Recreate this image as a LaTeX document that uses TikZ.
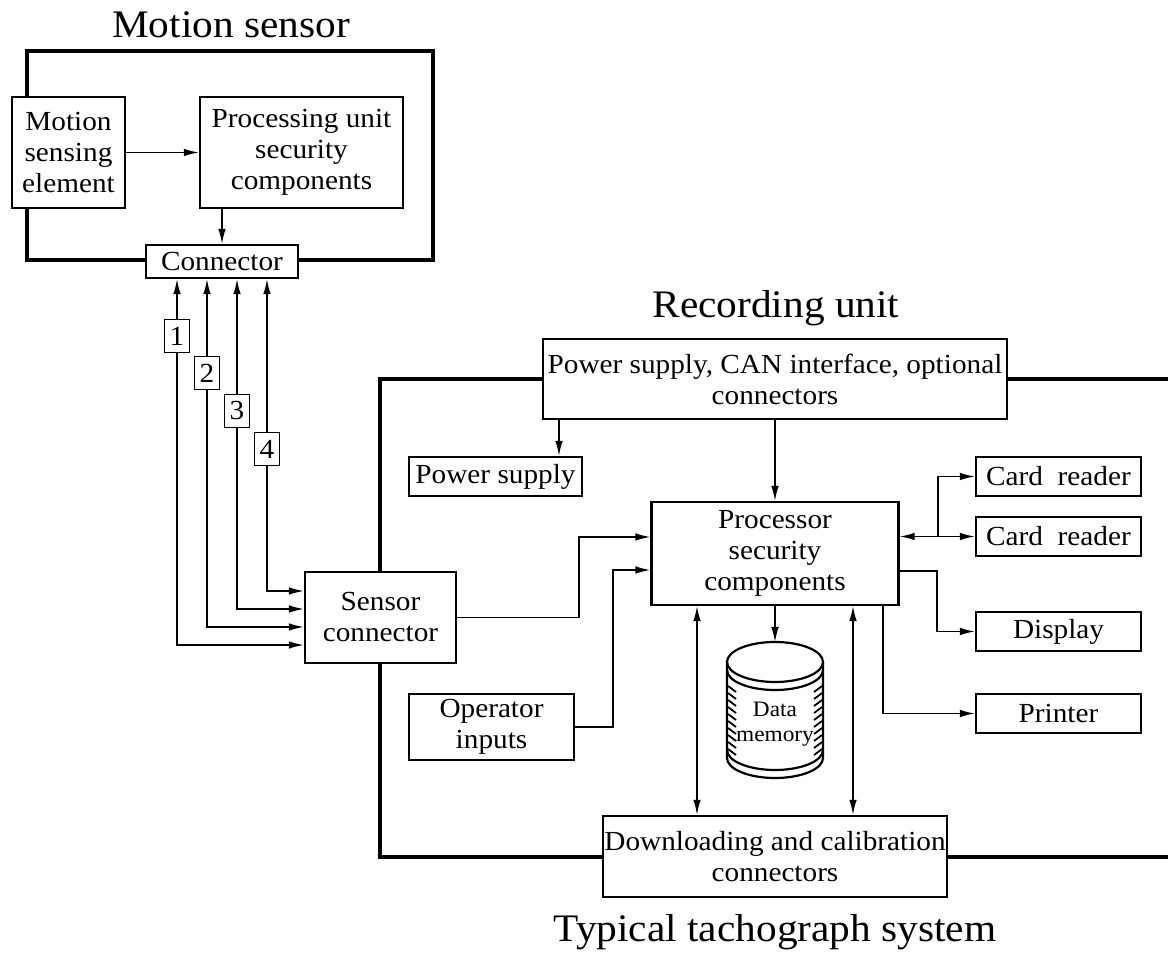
\documentclass[tikz,border=0pt]{standalone}
\usepackage{fontspec}
\setmainfont{Liberation Serif}[FakeStretch=1.06]
\usepackage{tikz}
\usetikzlibrary{positioning,arrows,arrows.meta}

\begin{document}
\begin{tikzpicture}[x=0.5pt,y=-0.5pt,>={Latex[length=7.5pt,width=3.8pt]},line width=0.7pt,font=\fontsize{13.8}{15.5}\selectfont]
            \tikzstyle{box}=[draw,line width=1.2pt,fill=white,align=center,inner sep=0pt]
            \tikzstyle{frame}=[line width=2pt]
            \tikzstyle{title}=[anchor=base,font=\fontsize{19.5}{22}\selectfont]
            \tikzstyle{numbox}=[draw,line width=0.6pt,fill=white,inner sep=0pt,minimum width=12.5pt,minimum height=16.5pt]
            \useasboundingbox (0,0) rectangle (1168,961);

            \node[title] (mstitle) at (231,38) {Motion sensor};
            \node[title] (rutitle) at (776,318) {Recording unit};
            \node[title] (systitle) at (775,942) {Typical tachograph system};

            \draw[frame] (27,51) rectangle (433,260);
            \draw[frame] (1172,379) -- (380,379) -- (380,857) -- (1172,857);

            \node[box,minimum width=56.5pt,minimum height=55.5pt] (mse) at (68.5,152.5) {Motion\\sensing\\element};
            \node[box,minimum width=101.5pt,minimum height=55.5pt] (pu) at (301.5,152.5) {Processing unit\\security\\components};
            \node[box,minimum width=76pt,minimum height=16.5pt] (conn) at (222,261.5) {Connector};
            \node[box,minimum width=75.5pt,minimum height=45.5pt] (sc) at (380.5,617.5) {Sensor\\connector};
            \node[box,minimum width=232pt,minimum height=40pt] (psc) at (775,379) {Power supply, CAN interface, optional\\connectors};
            \node[box,minimum width=86.5pt,minimum height=19.5pt] (ps) at (495.5,476.5) {Power supply};
            \node[box,minimum width=123.5pt,minimum height=51.5pt] (proc) at (775,553.5) {Processor\\security\\components};
            \node[box,minimum width=82.5pt,minimum height=33pt] (op) at (491.5,727) {Operator\\inputs};
            \node[box,minimum width=82.5pt,minimum height=19.5pt] (cr1) at (1058.5,476.5) {Card~ reader};
            \node[box,minimum width=82.5pt,minimum height=19.5pt] (cr2) at (1058.5,536.5) {Card~ reader};
            \node[box,minimum width=82.5pt,minimum height=19.5pt] (disp) at (1058.5,631.5) {Display};
            \node[box,minimum width=82.5pt,minimum height=19.5pt] (prn) at (1058.5,713.5) {Printer};
            \node[box,minimum width=172pt,minimum height=40.5pt] (dl) at (775,856.5) {Downloading and calibration\\connectors};

            \draw[line width=1.1pt] (775,662) ellipse [x radius=24pt,y radius=10pt];
            \draw[line width=1.1pt] (727,670) arc[start angle=180,end angle=360,x radius=24pt,y radius=10pt];
            \draw[line width=1.1pt] (727,662) -- (727,758) arc[start angle=180,end angle=360,x radius=24pt,y radius=10pt] -- (823,662);
            \draw[line width=1.1pt] (727,750) arc[start angle=180,end angle=360,x radius=24pt,y radius=10pt];
            \foreach \t in {686,693,...,750}{
                \draw[line width=0.9pt] (728,\t) -- (736,\t+6);
                \draw[line width=0.9pt] (822,\t) -- (814,\t+6);
            }
            \coordinate (memtop) at (775,642);
            \node[font=\fontsize{11}{12.5}\selectfont,align=center] (mem) at (775,724) {Data\\memory};

            \draw[->] (mse) -- (pu);
            \draw[->] (222,0 |- pu.south) -- (conn);
            \foreach \i/\x/\y/\ly in {1/177/645/336,2/207/627/373,3/237/609/411,4/267/591/449}{
                \draw[<->] (\x,0 |- conn.south) -- (\x,\y) -- (sc.west |- \x,\y);
                \node[numbox] (n\i) at (\x,\ly) {\i};
            }

            \draw[->] (559,0 |- psc.south) -- (559,0 |- ps.north);
            \draw[->] (psc) -- (proc);
            \draw[->] (sc.east) -| (579,537) -- (proc.west |- 579,537);
            \draw[->] (op.east) -| (613,570) -- (proc.west |- 613,570);
            \draw[<->] (proc.east |- cr2) -- (cr2);
            \coordinate (br) at (938,536.5);
            \draw[->] (br) |- (cr1);
            \draw[->] (proc.east |- 0,571) -- (937,571) |- (disp);
            \draw[->] (883,0 |- proc.south) |- (prn);
            \draw[->] (proc) -- (memtop);
            \draw[<->] (697,0 |- proc.south) -- (697,0 |- dl.north);
            \draw[<->] (853,0 |- proc.south) -- (853,0 |- dl.north);
        \end{tikzpicture}
\end{document}
